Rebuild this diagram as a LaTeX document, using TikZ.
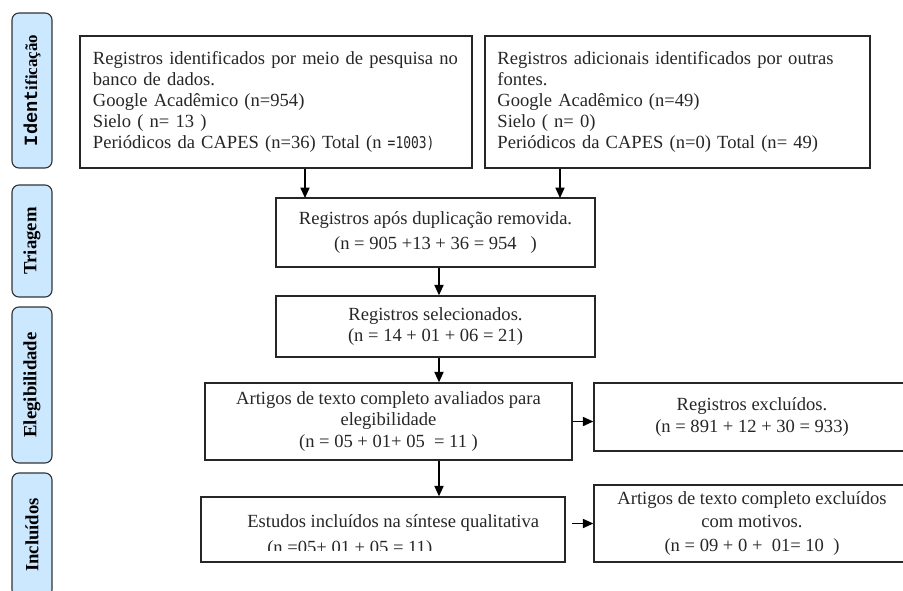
\documentclass[tikz,border=0pt]{standalone}
\usepackage{fontspec}
\setmainfont{Liberation Serif}
\newfontfamily\sumfont{DejaVu Sans Mono}
\newfontfamily\tabmono{Liberation Mono}
\usepackage{graphicx}
\usepackage{tikz}
\usetikzlibrary{arrows.meta, positioning}
\definecolor{tabblue}{HTML}{CCE8FF}
\definecolor{ink}{HTML}{262626}

\begin{document}
\begin{tikzpicture}[
	x=0.025cm, y=-0.025cm,
	box/.style={draw=ink, line width=1pt, rectangle, inner sep=0pt, text=ink, font=\fontsize{13.2}{15}\selectfont},
	tab/.style={draw=black!80, line width=0.8pt, fill=tabblue, rounded corners=5pt, rotate=90, minimum height=1cm, inner sep=0pt, font=\fontsize{13.3}{15}\selectfont\bfseries},
	arr/.style={draw=black, line width=0.9pt, -{Triangle[length=2.6mm, width=2.3mm]}},
	]
	
	\useasboundingbox (0,0) rectangle (903,591);
	\clip (0,0) rectangle (903,591);
	
	% Phase tabs (left column)
	\node[tab, minimum width=3.875cm] (tid) at (32,90.5) {{\tabmono Ident}{\fontsize{12}{12}\selectfont ificação}};
	\node[tab, minimum width=2.8cm] (ttri) at (32,241) {Triagem};
	\node[tab, minimum width=3.9cm] (tele) at (32,385) {Elegibilidade};
	\node[tab, minimum width=3.1cm] (tinc) at (32,535) {Incluídos};
	
	% Identification boxes
	\node[box, minimum width=9.8cm, minimum height=3.3cm, text width=9.15cm, align=left] (id1) at (276,102) {
		Registros identificados por meio de pesquisa no\\
		banco de dados.\\
		Google Acadêmico (n=954)\\
		Sielo ( n= 13 )\\
		Periódicos da CAPES (n=36) Total (n {\sumfont\fontsize{11.5}{15}\selectfont\scalebox{0.8}[1]{=1003)}}
	};
	\node[box, minimum width=9.625cm, minimum height=3.3cm, text width=9cm, align=left] (id2) at (677.5,102) {
		Registros adicionais identificados por outras\\
		fontes.\\
		Google Acadêmico (n=49)\\
		Sielo ( n= 0)\\
		Periódicos da CAPES (n=0) Total (n= 49)
	};
	
	% Screening and selection
	\node[box, minimum width=7.975cm, minimum height=1.725cm, align=center, font=\fontsize{13.2}{17.5}\selectfont] (tri) at (435.5,232.5) {
		Registros após duplicação removida.\\
		(n = 905 +13 + 36 = 954\ \ \ )
	};
	\node[box, minimum width=7.975cm, minimum height=1.525cm, align=center] (sel) at (435.5,326.5) {
		Registros selecionados.\\
		(n = 14 + 01 + 06 = 21)
	};
	
	% Eligibility
	\node[box, minimum width=9.175cm, minimum height=1.925cm, align=center, font=\fontsize{13.2}{15.5}\selectfont] (ele) at (388.5,421.5) {
		Artigos de texto completo avaliados para\\
		elegibilidade\\
		(n = 05 + 01+ 05\ \ = 11 )
	};
	\node[box, minimum width=7.9cm, minimum height=1.7cm, align=center] (exc1) at (752,417) {
		Registros excluídos.\\
		(n = 891 + 12 + 30 = 933)
	};
	
	% Included
	\node[box, minimum width=9.1cm, minimum height=1.625cm] (inc) at (383,529.5) {};
	\begin{scope}
		\clip (inc.north west) rectangle (inc.east |- 0,550);
		\node[font=\fontsize{13.2}{19}\selectfont, text=ink, align=left, anchor=north west, inner sep=0pt] (inctxt) at (247,514) {
			Estudos incluídos na síntese qualitativa\\
			\hspace*{5mm}(n =05+ 01 + 05 = 11)
		};
	\end{scope}
	\node[box, minimum width=7.9cm, minimum height=1.925cm, align=center, font=\fontsize{13.2}{16.7}\selectfont] (exc2) at (752,523.5) {
		Artigos de texto completo excluídos\\
		com motivos.\\
		(n = 09 + 0 +\ \ 01= 10\ \ )
	};
	
	% Connectors
	\coordinate (t1) at (305,198);
	\coordinate (t2) at (560,198);
	\coordinate (m) at (439,0);
	\draw[arr] (id1.south -| t1) -- (t1);
	\draw[arr] (id2.south -| t2) -- (t2);
	\draw[arr] (tri.south -| m) -- (sel.north -| m);
	\draw[arr] (sel.south -| m) -- (ele.north -| m);
	\draw[arr] (ele.south -| m) -- (inc.north -| m);
	\draw[arr] (ele.east) -- (exc1.west |- ele.east);
	\draw[arr] ([xshift=1.5mm]inc.east |- exc2.west) -- (exc2.west);
	
\end{tikzpicture}
\end{document}
